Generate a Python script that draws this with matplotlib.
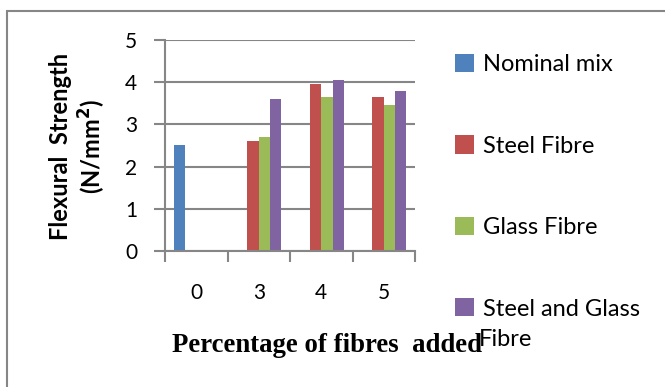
import numpy as np
import matplotlib
matplotlib.use("Agg")
import matplotlib.pyplot as plt
from matplotlib.patches import Rectangle

# Flexural strength (N/mm^2) per fibre percentage
categories = ["0", "3", "4", "5"]
nominal = [2.5, np.nan, np.nan, np.nan]
steel = [np.nan, 2.6, 3.96, 3.65]
glass = [np.nan, 2.7, 3.65, 3.45]
steel_glass = [np.nan, 3.6, 4.05, 3.78]

series = [
    ("Nominal mix", nominal, "#4F81BD"),
    ("Steel Fibre", steel, "#C0504D"),
    ("Glass Fibre", glass, "#9BBB59"),
    ("Steel and Glass", steel_glass, "#8064A2"),
]

W, H = 665, 387
fig = plt.figure(figsize=(W / 100, H / 100), dpi=100)
ax = fig.add_axes([165 / W, 1 - 251 / H, 250 / W, 211 / H])

grid_col = "#868686"
x = np.arange(len(categories))
bw = 0.181
handles = []
for i, (name, vals, col) in enumerate(series):
    b = ax.bar(x + (i - 1.5) * bw, vals, bw, color=col, label=name, zorder=3)
    handles.append(b)

ax.set_xlim(-0.5, len(categories) - 0.5)
ax.set_ylim(0, 5)
ax.set_yticks(range(6))
ax.yaxis.grid(True, color=grid_col, linewidth=1.5, zorder=0)
for s in ["top", "right"]:
    ax.spines[s].set_visible(False)
for s in ["left", "bottom"]:
    ax.spines[s].set_color(grid_col)
    ax.spines[s].set_linewidth(1.5)
ax.spines["bottom"].set_zorder(4)

# category separators as major ticks, labels on minor ticks
ax.set_xticks(np.arange(-0.5, len(categories), 1.0))
ax.set_xticklabels([])
ax.set_xticks(x, minor=True)
ax.set_xticklabels(categories, minor=True)
ax.tick_params(axis="x", which="major", length=8, width=1.5, color=grid_col)
ax.tick_params(axis="x", which="minor", length=0, pad=23)
ax.tick_params(axis="y", length=8, width=1.5, color=grid_col, pad=12)
for lab in ax.get_xticklabels(minor=True) + ax.get_yticklabels():
    lab.set_family("Lato")
    lab.set_fontsize(15)

fig.text(60 / W, 1 - 146 / H, "Flexural  Strength", rotation=90, ha="center",
         va="center", family="Lato", fontweight="bold", fontsize=17)
fig.text(92 / W, 1 - 146 / H, "(N/mm$^{\\mathbf{2}}$)", rotation=90, ha="center",
         va="center", family="Lato", fontweight="bold", fontsize=17)
fig.text(327 / W, 1 - 345 / H, "Percentage of fibres  added", ha="center",
         va="center", family="Liberation Serif", fontweight="bold", fontsize=19.3)

leg = fig.legend(handles=handles, loc="upper left", bbox_to_anchor=(455 / W, 1 - 54 / H),
                 frameon=False, prop={"family": "Lato", "size": 17},
                 handlelength=0.8, handleheight=0.8, handletextpad=0.4,
                 labelspacing=2.55, borderpad=0, borderaxespad=0)
fig.text(479 / W, 1 - 339 / H, "Fibre", ha="left", va="center",
         family="Lato", fontsize=17)

# chart frame
fig.add_artist(Rectangle((7 / W, -0.1), 1.2, 1 - 11 / H + 0.1, transform=fig.transFigure,
                         fill=False, edgecolor=grid_col, linewidth=1.5))

fig.savefig("out.png", dpi=100)
